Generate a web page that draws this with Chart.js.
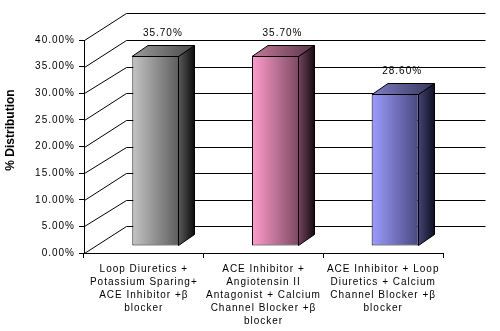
<!DOCTYPE html>
<html><head><meta charset="utf-8">
<script src="https://cdn.jsdelivr.net/npm/chart.js@4"></script>
<style>html,body{margin:0;padding:0;background:#fff}#wrap{width:500px;height:331px}</style>
</head><body><div id="wrap"><canvas id="c" width="500" height="331"></canvas></div>
<script>
const categories = [
  ["Loop Diuretics +", "Potassium Sparing+", "ACE Inhibitor +β", "blocker"],
  ["ACE Inhibitor +", "Angiotensin II", "Antagonist + Calcium", "Channel Blocker +β", "blocker"],
  ["ACE Inhibitor + Loop", "Diuretics + Calcium", "Channel Blocker +β", "blocker"]
];
const values = [35.7, 35.7, 28.6];
const yMin = 0, yMax = 40, yStep = 5;
const yAxisTitle = "% Distribution";

// styles
const FRONT = [['#c4c4c4','#5c5c5c'],['#ff9ccc','#7c4962'],['#9c9cff','#48487e']];
const SIDE  = [['#5a5a5a','#0c0c0c'],['#764560','#140b10'],['#444476','#0e0e22']];
const TOP   = [['#9a9a9a','#4a4a4a'],['#c47a9c','#5a3446'],['#7e7ec4','#36365c']];
const WALL_DX = 42, WALL_DY = -26.6, BAR_DX = 12, BAR_DY = -7, DEP_DX = 16, DEP_DY = -11;
const FONT = '"Liberation Sans", Arial, sans-serif';
const px = v => Math.round(v) + 0.5;

const threeD = {
  id: 'threeD',
  beforeLayout(chart){ chart.ctx.letterSpacing = '1px'; },
  beforeDraw(chart){ chart.ctx.letterSpacing = '1px'; },
  beforeDatasetsDraw(chart){
    const ctx = chart.ctx, ys = chart.scales.y, xs = chart.scales.x;
    ctx.save();
    ctx.strokeStyle = '#000'; ctx.lineWidth = 1;
    ys.ticks.forEach(t => {
      const y = ys.getPixelForValue(t.value);
      ctx.beginPath();
      ctx.moveTo(px(xs.left), px(y));
      ctx.lineTo(px(xs.left + WALL_DX), px(y + WALL_DY));
      ctx.lineTo(px(xs.right + WALL_DX), px(y + WALL_DY));
      ctx.stroke();
    });
    ctx.restore();
    ctx.save();
    ctx.translate(BAR_DX, BAR_DY);
  },
  afterDatasetsDraw(chart){
    const ctx = chart.ctx;
    ctx.restore();
    const meta = chart.getDatasetMeta(0);
    ctx.save();
    ctx.strokeStyle = '#000'; ctx.lineWidth = 1;
    meta.data.forEach((el, i) => {
      const x = el.x + BAR_DX, w = el.width;
      const L = px(x - w/2) - 0.5, R = px(x + w/2) - 1;
      const T = px(el.y + BAR_DY), B = px(el.base + BAR_DY) - 1;
      // side
      let g = ctx.createLinearGradient(R, 0, R + DEP_DX, 0);
      g.addColorStop(0, SIDE[i][0]); g.addColorStop(1, SIDE[i][1]);
      ctx.fillStyle = g;
      ctx.beginPath();
      ctx.moveTo(R, T); ctx.lineTo(R + DEP_DX, T + DEP_DY);
      ctx.lineTo(R + DEP_DX, B + DEP_DY); ctx.lineTo(R, B); ctx.closePath();
      ctx.fill(); ctx.stroke();
      // top
      g = ctx.createLinearGradient(L, 0, R + DEP_DX, 0);
      g.addColorStop(0, TOP[i][0]); g.addColorStop(1, TOP[i][1]);
      ctx.fillStyle = g;
      ctx.beginPath();
      ctx.moveTo(L, T); ctx.lineTo(L + DEP_DX, T + DEP_DY);
      ctx.lineTo(R + DEP_DX, T + DEP_DY); ctx.lineTo(R, T); ctx.closePath();
      ctx.fill(); ctx.stroke();
      // value label
      ctx.fillStyle = '#000';
      ctx.font = '10px ' + FONT;
      ctx.letterSpacing = '1px';
      ctx.textAlign = 'center'; ctx.textBaseline = 'middle';
      ctx.fillText(values[i].toFixed(2) + '%', x + 7, T + DEP_DY - 12);
    });
    ctx.restore();
  },
  afterDraw(chart){
    const ctx = chart.ctx;
    ctx.save();
    ctx.translate(11, 130);
    ctx.rotate(-Math.PI/2);
    ctx.font = 'bold 12px ' + FONT;
    ctx.letterSpacing = '0px';
    ctx.fillStyle = '#000';
    ctx.textAlign = 'center'; ctx.textBaseline = 'middle';
    ctx.fillText(yAxisTitle, 0, 0);
    ctx.restore();
  }
};

new Chart(document.getElementById('c'), {
  type: 'bar',
  data: {
    labels: categories,
    datasets: [{
      data: values,
      clip: false,
      borderColor: '#000',
      borderWidth: 1,
      borderSkipped: false,
      categoryPercentage: 1,
      barPercentage: 0.393,
      backgroundColor: (c) => {
        const chart = c.chart, i = c.dataIndex;
        if (!chart.chartArea || i === undefined) return FRONT[0][0];
        const xs = chart.scales.x;
        const xc = xs.getPixelForValue(i);
        const w = (xs.width / categories.length) * 0.393;
        const g = chart.ctx.createLinearGradient(xc - w/2, 0, xc + w/2, 0);
        g.addColorStop(0, FRONT[i][0]); g.addColorStop(1, FRONT[i][1]);
        return g;
      }
    }]
  },
  options: {
    responsive: false,
    devicePixelRatio: 1,
    animation: false,
    layout: { padding: { top: 40, right: 57, left: 0, bottom: 0 } },
    plugins: { legend: { display: false }, tooltip: { enabled: false } },
    scales: {
      x: {
        afterFit: s => { s.height = 78; },
        grid: { drawOnChartArea: false, drawTicks: true, tickLength: 5, color: '#000' },
        border: { display: true, color: '#000', width: 1 },
        ticks: { color: '#000', maxRotation: 0, autoSkip: false, padding: 5,
                 font: { family: FONT, size: 10, lineHeight: '13px' } }
      },
      y: {
        min: yMin, max: yMax,
        afterFit: s => { s.width = 84; },
        grid: { drawOnChartArea: false, drawTicks: true, tickLength: 5, color: '#000' },
        border: { display: true, color: '#000', width: 1 },
        ticks: { color: '#000', stepSize: yStep, padding: 4,
                 font: { family: FONT, size: 10 },
                 callback: v => Number(v).toFixed(2) + '%' }
      }
    }
  },
  plugins: [threeD]
});
</script>
</body></html>
